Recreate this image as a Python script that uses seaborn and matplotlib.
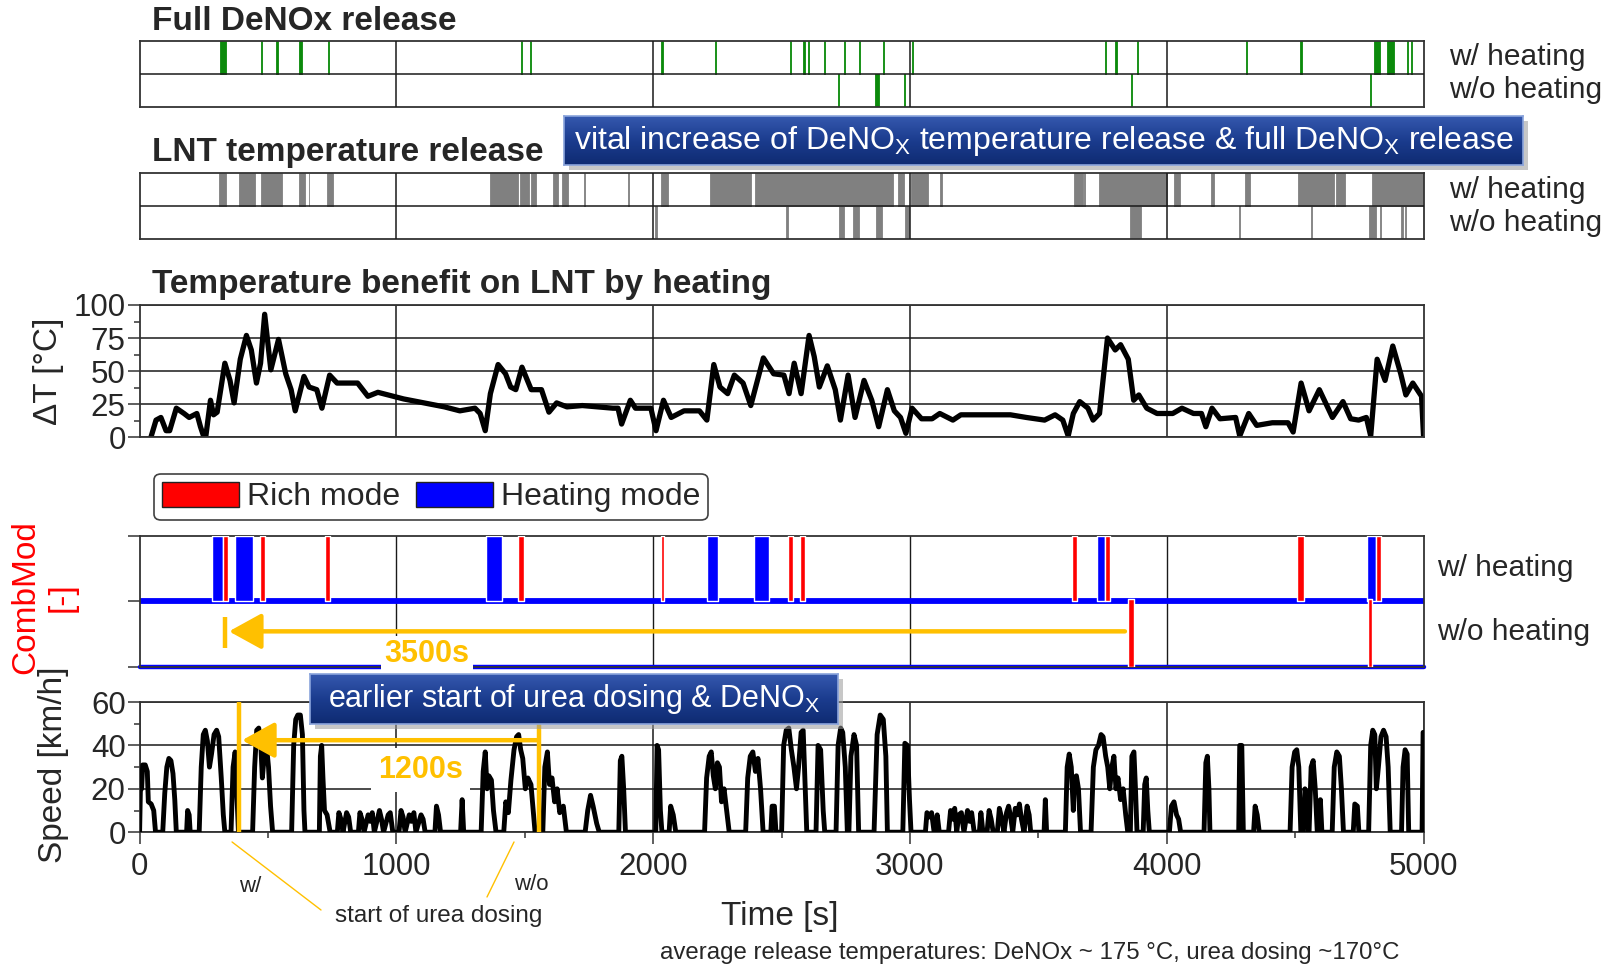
import numpy as np
import pandas as pd
import matplotlib
matplotlib.use("Agg")
import matplotlib.pyplot as plt
import seaborn as sns
from matplotlib.patches import Patch
from matplotlib.colors import LinearSegmentedColormap
from matplotlib.ticker import MultipleLocator

# ---------------- data ----------------
denox_with = [(313, 336), (472, 478), (533, 539), (620, 634), (733, 737), (1484, 1488), (1522, 1526),
              (2032, 2040), (2242, 2246), (2531, 2537), (2584, 2590), (2601, 2606), (2665, 2669),
              (2742, 2748), (2800, 2806), (2893, 2900), (3007, 3011), (3758, 3764), (3799, 3806),
              (3884, 3888), (4310, 4314), (4520, 4526), (4805, 4831), (4857, 4883), (4937, 4941),
              (4950, 4954)]
denox_without = [(2719, 2723), (2865, 2881), (2977, 2981), (3859, 3866), (4791, 4795)]

lnt_with = [(311, 337), (389, 450), (471, 556), (619, 645), (658, 661), (731, 752), (1363, 1473),
            (1481, 1516), (1524, 1545), (1608, 1629), (1645, 1669), (1731, 1734), (1900, 1906),
            (2029, 2056), (2223, 2382), (2395, 2935), (2953, 2976), (3002, 3069), (3118, 3126),
            (3637, 3674), (3679, 3682), (3735, 4000), (4029, 4053), (4171, 4184), (4303, 4323),
            (4510, 4650), (4658, 4694), (4800, 4997)]
lnt_without = [(2008, 2014), (2519, 2525), (2723, 2742), (2777, 2803), (2869, 2890), (2981, 2997),
               (3856, 3894), (3897, 3900), (4282, 4286), (4563, 4567), (4789, 4815), (4830, 4834),
               (4913, 4921), (4928, 4931)]

t_temp = [44, 64, 83, 103, 117, 143, 173, 193, 223, 237, 249, 258, 276, 288, 302, 332, 352, 368, 392,
          416, 435, 455, 471, 487, 511, 541, 569, 590, 606, 640, 660, 690, 710, 740, 769, 849, 889,
          928, 968, 1028, 1107, 1187, 1247, 1306, 1326, 1346, 1366, 1396, 1425, 1445, 1465, 1489,
          1525, 1565, 1594, 1624, 1664, 1724, 1783, 1843, 1863, 1877, 1911, 1931, 1991, 2011, 2040,
          2070, 2120, 2180, 2209, 2236, 2260, 2290, 2316, 2350, 2380, 2429, 2469, 2509, 2529, 2549,
          2576, 2607, 2627, 2647, 2678, 2709, 2729, 2759, 2786, 2821, 2851, 2878, 2912, 2939, 2963,
          2984, 3008, 3045, 3086, 3116, 3167, 3198, 3249, 3310, 3391, 3453, 3524, 3565, 3595, 3616,
          3636, 3661, 3693, 3713, 3738, 3769, 3799, 3820, 3850, 3871, 3891, 3922, 3962, 4023, 4059,
          4104, 4135, 4152, 4176, 4207, 4268, 4284, 4319, 4350, 4411, 4472, 4492, 4523, 4554, 4594,
          4645, 4686, 4716, 4747, 4777, 4794, 4819, 4850, 4880, 4911, 4931, 4958, 4992, 5000]
delta_T = [0, 13, 15, 5, 5, 22, 18, 15, 18, 8, 1, 1, 28, 17, 19, 56, 43, 26, 59,
           77, 66, 41, 56, 93, 51, 74, 48, 36, 20, 46, 38, 36, 22, 47, 41, 41, 31,
           34, 32, 29, 26, 23, 20, 22, 18, 5, 33, 55, 48, 38, 36, 53,
           36, 36, 19, 26, 23, 24, 23, 22, 22, 10, 28, 22, 22, 5, 28,
           15, 20, 20, 13, 55, 38, 33, 47, 41, 24, 60, 48, 47, 33, 56,
           33, 77, 61, 38, 54, 36, 13, 47, 15, 43, 28, 8, 36, 20, 15,
           3, 22, 14, 14, 18, 13, 17, 17, 17, 17, 15, 13, 17, 13, 1,
           18, 27, 22, 13, 18, 75, 66, 70, 59, 28, 32, 22, 18, 18, 22,
           18, 18, 8, 22, 14, 15, 1, 18, 9, 11, 11, 4, 41, 20, 36,
           15, 27, 14, 13, 15, 1, 59, 43, 69, 48, 32, 41, 31, 0]

heating_with = [(281, 325), (370, 440), (1348, 1413), (2208, 2254), (2391, 2452), (3728, 3758), (4780, 4815)]
rich_with = [(325, 344), (469, 489), (722, 742), (1474, 1495), (2031, 2044), (2526, 2546), (2572, 2592),
             (3631, 3652), (3758, 3779), (4507, 4533), (4815, 4835)]
rich_without = [(3849, 3871), (4784, 4800)]

speed_pts = [
    (0, 0), (4, 25), (8, 20), (12, 31), (22, 31), (30, 28), (34, 14), (45, 13), (55, 10), (62, 0),
    (90, 0), (98, 18), (106, 30), (114, 34), (122, 33), (130, 27), (137, 15), (143, 0),
    (183, 0), (187, 10), (193, 8), (197, 0),
    (232, 0), (240, 30), (248, 45), (256, 47), (264, 42), (272, 30), (280, 36), (290, 45), (300, 47),
    (308, 44), (318, 25), (326, 8), (332, 0),
    (356, 0), (364, 30), (372, 37), (378, 20), (385, 0),
    (440, 0), (448, 30), (456, 47), (464, 48), (472, 40), (478, 25), (486, 36), (494, 40), (502, 30),
    (510, 12), (518, 0),
    (592, 0), (600, 40), (608, 52), (616, 54), (626, 54), (634, 45), (640, 10), (644, 0),
    (700, 0), (704, 35), (709, 40), (714, 25), (720, 10), (730, 8), (742, 0),
    (770, 0), (776, 9), (784, 6), (792, 0), (806, 9), (814, 7), (822, 0), (852, 0), (858, 9), (866, 6),
    (874, 0), (890, 8), (898, 5), (906, 9), (914, 0), (934, 10), (942, 6), (950, 0), (968, 8), (976, 9),
    (986, 0), (1010, 0), (1018, 10), (1026, 7), (1034, 0), (1050, 8), (1058, 5), (1068, 9), (1076, 0),
    (1096, 8), (1104, 6), (1112, 0), (1150, 0), (1156, 12), (1164, 8), (1172, 0),
    (1250, 0), (1256, 15), (1262, 0),
    (1330, 0), (1338, 28), (1346, 37), (1353, 20), (1360, 26), (1370, 24), (1378, 10), (1388, 0),
    (1418, 0), (1426, 14), (1436, 9), (1446, 24), (1458, 38), (1468, 44), (1476, 45), (1484, 38),
    (1492, 34), (1502, 20), (1512, 25), (1524, 22), (1534, 8), (1540, 0),
    (1570, 0), (1578, 30), (1588, 37), (1596, 22), (1606, 25), (1616, 14), (1626, 20), (1636, 9),
    (1650, 12), (1662, 0),
    (1735, 0), (1745, 10), (1756, 17), (1766, 12), (1780, 4), (1790, 0),
    (1866, 0), (1872, 33), (1878, 35), (1885, 20), (1892, 0),
    (2010, 0), (2015, 40), (2021, 38), (2028, 10), (2034, 0),
    (2062, 0), (2068, 12), (2078, 8), (2088, 0),
    (2200, 0), (2208, 25), (2218, 35), (2226, 37), (2234, 26), (2242, 20), (2250, 32), (2258, 30),
    (2266, 14), (2276, 20), (2286, 10), (2296, 0),
    (2360, 0), (2368, 25), (2378, 35), (2388, 37), (2398, 28), (2408, 34), (2418, 20), (2428, 0),
    (2458, 0), (2463, 12), (2472, 12), (2478, 0),
    (2500, 0), (2508, 40), (2518, 47), (2528, 48), (2538, 38), (2548, 30), (2558, 20), (2566, 30),
    (2576, 46), (2584, 47), (2592, 20), (2598, 0),
    (2634, 0), (2642, 40), (2652, 38), (2662, 10), (2668, 0),
    (2712, 0), (2720, 40), (2730, 48), (2738, 46), (2748, 30), (2756, 0),
    (2762, 0), (2770, 35), (2782, 45), (2792, 40), (2800, 0),
    (2860, 0), (2872, 45), (2884, 54), (2896, 52), (2906, 35), (2912, 0),
    (2972, 0), (2980, 41), (2990, 40), (2998, 15), (3004, 0),
    (3060, 0), (3066, 9), (3076, 7), (3084, 9), (3094, 0), (3100, 0), (3106, 8), (3114, 0), (3150, 0),
    (3158, 10), (3166, 6), (3174, 11), (3182, 0), (3190, 8), (3200, 9), (3210, 0), (3224, 10),
    (3232, 5), (3240, 9), (3250, 0), (3270, 0), (3276, 9), (3284, 0), (3300, 0), (3308, 10), (3316, 6),
    (3324, 0), (3340, 0), (3348, 11), (3356, 7), (3366, 0), (3376, 9), (3384, 12), (3392, 7), (3400, 0),
    (3410, 11), (3418, 8), (3426, 13), (3434, 6), (3444, 0), (3456, 12), (3464, 8), (3470, 0),
    (3522, 0), (3527, 15), (3532, 0),
    (3605, 0), (3612, 30), (3620, 36), (3628, 30), (3636, 10), (3640, 25), (3648, 26), (3656, 20),
    (3664, 0),
    (3705, 0), (3714, 30), (3724, 38), (3734, 40), (3744, 45), (3752, 44), (3762, 35), (3770, 30),
    (3778, 20), (3786, 30), (3794, 35), (3802, 20), (3810, 25), (3820, 15), (3830, 20), (3840, 8),
    (3848, 0),
    (3858, 0), (3864, 35), (3872, 37), (3878, 20), (3884, 0),
    (3908, 0), (3914, 22), (3920, 25), (3926, 10), (3932, 0),
    (4010, 0), (4018, 12), (4028, 14), (4038, 8), (4046, 6), (4054, 0),
    (4145, 0), (4152, 32), (4158, 35), (4164, 20), (4168, 0),
    (4280, 0), (4284, 40), (4292, 40), (4298, 0),
    (4338, 0), (4344, 12), (4352, 8), (4360, 0),
    (4480, 0), (4488, 30), (4498, 37), (4506, 38), (4514, 30), (4522, 0),
    (4532, 0), (4538, 20), (4546, 15), (4552, 0),
    (4554, 0), (4562, 30), (4570, 33), (4578, 20), (4586, 0),
    (4594, 0), (4598, 15), (4604, 0),
    (4644, 0), (4652, 30), (4662, 37), (4672, 35), (4680, 20), (4688, 0),
    (4726, 0), (4732, 13), (4742, 12), (4748, 0),
    (4786, 0), (4794, 40), (4802, 47), (4810, 45), (4816, 20), (4824, 30), (4834, 44), (4844, 47),
    (4854, 44), (4862, 30), (4870, 0),
    (4914, 0), (4920, 30), (4928, 38), (4936, 36), (4942, 0),
    (4994, 0), (4998, 46), (5000, 46)]
t_speed = [p[0] for p in speed_pts]
v_speed = [p[1] for p in speed_pts]

urea_start_with = 386
urea_start_without = 1554
rich_start_with = 334
rich_start_without = 3837

x_ticks = [0, 1000, 2000, 3000, 4000, 5000]
row_labels = ["w/ heating", "w/o heating"]

# ---------------- style ----------------
sns.set_style("ticks")
plt.rcParams["font.family"] = ["Liberation Sans", "DejaVu Sans"]
plt.rcParams["mathtext.fontset"] = "custom"
plt.rcParams["mathtext.rm"] = "Liberation Sans"
plt.rcParams["mathtext.it"] = "Liberation Sans"

W, H = 1621, 969
fig = plt.figure(figsize=(W / 100, H / 100), dpi=100)
fig.patch.set_facecolor("white")

AMBER = "#ffc000"
SPINE = "#333333"
GRID = "#1a1a1a"
TICKFS = 22.5


def rect(x0, y0, x1, y1):
    return [x0 / W, 1 - y1 / H, (x1 - x0) / W, (y1 - y0) / H]


def fx(x):
    return x / W


def fy(y):
    return 1 - y / H


X0, X1 = 139.6, 1423.6


def style_spines(ax):
    for s in ax.spines.values():
        s.set_color(SPINE)
        s.set_linewidth(1.3)
        s.set_visible(True)


def event_panel(y0, y1, with_r, without_r, color, title, title_y, lab_y):
    ax = fig.add_axes(rect(X0, y0, X1, y1))
    ax.set_xlim(0, 5000)
    ax.set_ylim(0, 2)
    ax.broken_barh([(s, e - s) for s, e in with_r], (1, 1), facecolors=color, edgecolors=color,
                   linewidth=0.6, zorder=2)
    ax.broken_barh([(s, e - s) for s, e in without_r], (0, 1), facecolors=color, edgecolors=color,
                   linewidth=0.6, zorder=2)
    ax.set_xticks([1000, 2000, 3000, 4000])
    ax.set_yticks([1])
    ax.tick_params(length=0, labelbottom=False, labelleft=False)
    ax.grid(True, color=GRID, lw=1.1, zorder=3)
    ax.set_axisbelow(False)
    style_spines(ax)
    fig.text(fx(152), fy(title_y), title, fontsize=24, fontweight="bold", ha="left", va="center")
    for lab, yy in zip(row_labels, lab_y):
        fig.text(fx(1449), fy(yy), lab, fontsize=21.5, ha="left", va="center")
    return ax


# Full DeNOx release
event_panel(41.4, 106.5, denox_with, denox_without, "#0b8a0b", "Full DeNOx release", 21, (57, 90))
# LNT temperature release
event_panel(172.6, 238.8, lnt_with, lnt_without, "#808080", "LNT temperature release", 153, (190, 223))

# Temperature benefit panel
axT = fig.add_axes(rect(X0, 305.0, X1, 437.3))
dfT = pd.DataFrame({"t": t_temp, "dT": delta_T})
sns.lineplot(data=dfT, x="t", y="dT", ax=axT, color="black", lw=3.8, estimator=None, sort=False)
axT.set_xlim(0, 5000)
axT.set_ylim(0, 100)
axT.set_xticks([1000, 2000, 3000, 4000])
axT.set_yticks([0, 25, 50, 75, 100])
axT.yaxis.set_minor_locator(MultipleLocator(12.5))
axT.tick_params(axis="x", length=0, labelbottom=False)
axT.tick_params(axis="y", which="major", direction="out", length=8.5, width=1.1, pad=1.5,
                labelsize=TICKFS, color=SPINE)
axT.tick_params(axis="y", which="minor", direction="out", length=4.5, width=1.1, color=SPINE)
axT.grid(True, which="major", color=GRID, lw=1.1)
axT.set_xlabel("")
axT.set_ylabel("ΔT [°C]", fontsize=24)
axT.yaxis.label.set_va("center")
axT.yaxis.set_label_coords(-0.0709, 0.50)
style_spines(axT)
fig.text(fx(152), fy(284), "Temperature benefit on LNT by heating", fontsize=24, fontweight="bold",
         ha="left", va="center")

# CombMod panel
axC = fig.add_axes(rect(X0, 535.5, X1, 666.8))
axC.set_xlim(0, 5000)
axC.set_ylim(0, 2)
axC.axhline(1, color="#0000ff", lw=4.2, zorder=2)
axC.axhline(0, color="#0000ff", lw=3.2, zorder=2, clip_on=False)
axC.broken_barh([(s, e - s) for s, e in heating_with], (1, 1), facecolors="#0000ff", zorder=3)
axC.broken_barh([(s, e - s) for s, e in rich_with], (1, 1), facecolors="#ff0000", zorder=4)
axC.broken_barh([(s, e - s) for s, e in rich_without], (0, 1.03), facecolors="#ff0000", zorder=4)
axC.set_xticks([1000, 2000, 3000, 4000])
axC.set_yticks([0, 1, 2])
axC.tick_params(axis="x", length=0, labelbottom=False)
axC.tick_params(axis="y", direction="out", length=8.5, width=1.1, labelleft=False, color=SPINE)
axC.grid(True, axis="x", color=GRID, lw=1.0)
style_spines(axC)
axC.set_ylabel("CombMod\n[-]", fontsize=24, color="#ff0000", linespacing=1.2)
axC.yaxis.label.set_va("center")
axC.yaxis.set_label_coords(-0.0745, 0.53)
for lab, yy in zip(row_labels, (567.5, 631.6)):
    fig.text(fx(1437), fy(yy), lab, fontsize=21.5, ha="left", va="center")
# 3500 s arrow
axC.plot([rich_start_with, rich_start_with], [0.29, 0.76], color=AMBER, lw=3.2, solid_capstyle="butt",
         zorder=5)
axC.annotate("", xy=(rich_start_with + 14, 0.54), xytext=(rich_start_without, 0.54),
             arrowprops=dict(arrowstyle="-|>,head_length=1.0,head_width=0.55", color=AMBER, lw=3.2,
                             mutation_scale=20, shrinkA=0, shrinkB=0), zorder=5)
axC.text(1119, 0.19, "3500s", ha="center", va="center", fontsize=22, fontweight="bold", color=AMBER,
         bbox=dict(fc="white", ec="none", pad=2.5), zorder=6, clip_on=False)

# legend
handles = [Patch(facecolor="#ff0000", edgecolor="#222222", label="Rich mode"),
           Patch(facecolor="#0000ff", edgecolor="#222222", label="Heating mode")]
leg = fig.legend(handles=handles, loc="center", bbox_to_anchor=(fx(431), fy(497)), ncol=2,
                 fontsize=23, frameon=True, fancybox=True, handlelength=2.4, handleheight=0.85,
                 handletextpad=0.25, columnspacing=0.5, borderpad=0.25, borderaxespad=0)
leg.get_frame().set_edgecolor("#111111")
leg.get_frame().set_linewidth(1.2)

# Speed panel
axS = fig.add_axes(rect(X0, 702.0, X1, 832.2))
dfS = pd.DataFrame({"t": t_speed, "v": v_speed})
sns.lineplot(data=dfS, x="t", y="v", ax=axS, color="black", lw=3.5, estimator=None, sort=False,
             zorder=3)
axS.set_xlim(0, 5000)
axS.set_ylim(0, 60)
axS.set_xticks(x_ticks)
axS.set_xticklabels([str(v) for v in x_ticks])
axS.xaxis.set_minor_locator(MultipleLocator(500))
axS.set_yticks([0, 20, 40, 60])
axS.yaxis.set_minor_locator(MultipleLocator(10))
axS.tick_params(which="major", direction="out", length=8.5, width=1.1, labelsize=TICKFS, color=SPINE)
axS.tick_params(axis="y", which="major", pad=1.5)
axS.tick_params(axis="x", which="major", pad=6)
axS.tick_params(which="minor", direction="out", length=4.5, width=1.1, color=SPINE)
axS.grid(True, which="major", color=GRID, lw=1.1)
style_spines(axS)
axS.set_xlabel("Time [s]", fontsize=24)
axS.xaxis.label.set_va("center")
axS.xaxis.set_label_coords(0.4988, -0.644)
axS.set_ylabel("Speed [km/h]", fontsize=24)
axS.yaxis.label.set_va("center")
axS.yaxis.set_label_coords(-0.0668, 0.516)
for ts in (urea_start_with, urea_start_without):
    axS.axvline(ts, color=AMBER, lw=3.2, zorder=5)
axS.annotate("", xy=(urea_start_with + 13, 42.4), xytext=(urea_start_without, 42.4),
             arrowprops=dict(arrowstyle="-|>,head_length=1.0,head_width=0.55", color=AMBER, lw=3.2,
                             mutation_scale=20, shrinkA=0, shrinkB=0), zorder=6)
axS.text(1095, 28.7, "1200s", ha="center", va="center", fontsize=22, fontweight="bold", color=AMBER,
         bbox=dict(fc="white", ec="none", pad=5), zorder=7)

# leader lines to "start of urea dosing"
axS.annotate("", xy=(360, -4.5), xycoords="data", xytext=(321, H - 910), textcoords="figure pixels",
             arrowprops=dict(arrowstyle="-", color=AMBER, lw=1.0, shrinkA=0, shrinkB=0),
             annotation_clip=False)
axS.annotate("", xy=(1458, -4.5), xycoords="data", xytext=(487, H - 897), textcoords="figure pixels",
             arrowprops=dict(arrowstyle="-", color=AMBER, lw=1.0, shrinkA=0, shrinkB=0),
             annotation_clip=False)
fig.text(fx(250), fy(887), "w/", fontsize=16, ha="center", va="center")
fig.text(fx(531), fy(885), "w/o", fontsize=16, ha="center", va="center")
fig.text(fx(439), fy(916), "start of urea dosing", fontsize=17.5, ha="center", va="center")
fig.text(fx(1030), fy(953), "average release temperatures: DeNOx ~ 175 °C, urea dosing ~170°C",
         fontsize=17.3, ha="center", va="center")

# callout boxes
cmap = LinearSegmentedColormap.from_list("callout", ["#3558ae", "#1b3c8e", "#0f2b72"])
grad = np.linspace(0, 1, 64).reshape(-1, 1)


def callout(x0, y0, x1, y1, text, fs):
    sh = fig.add_axes(rect(x0 + 5, y0 + 5, x1 + 5, y1 + 5), zorder=8)
    sh.set_facecolor("#9a9a9a")
    sh.set_xticks([]); sh.set_yticks([])
    for s in sh.spines.values():
        s.set_visible(False)
    sh.patch.set_alpha(0.55)
    bx = fig.add_axes(rect(x0, y0, x1, y1), zorder=9)
    bx.imshow(grad, aspect="auto", cmap=cmap, extent=(0, 1, 0, 1), origin="upper")
    bx.set_xticks([]); bx.set_yticks([])
    for s in bx.spines.values():
        s.set_color("#8aa4dc")
        s.set_linewidth(1.2)
    bx.text(0.5, 0.5, text, transform=bx.transAxes, ha="center", va="center", color="white",
            fontsize=fs)


callout(564, 116, 1523, 165,
        r"vital increase of DeNO$_\mathregular{X}$ temperature release & full DeNO$_\mathregular{X}$ release",
        23)
callout(310, 674, 838, 724, r"earlier start of urea dosing & DeNO$_\mathregular{X}$", 22)

fig.savefig("out.png", dpi=100, facecolor="white")
